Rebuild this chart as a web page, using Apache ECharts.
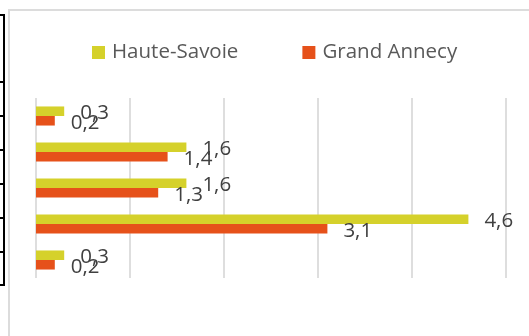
<!DOCTYPE html>
<html>
<head>
<meta charset="utf-8">
<script src="https://cdn.jsdelivr.net/npm/echarts@6/dist/echarts.min.js"></script>
<style>
  html, body { margin: 0; padding: 0; background: #ffffff; }
  #chart { width: 529px; height: 336px; }
</style>
</head>
<body>
<div id="chart"></div>
<script>
// Categories, top to bottom
const categories = ['Catégorie 1', 'Catégorie 2', 'Catégorie 3', 'Catégorie 4', 'Catégorie 5'];
const seriesNames = ['Haute-Savoie', 'Grand Annecy'];
const hauteSavoie = [0.3, 1.6, 1.6, 4.6, 0.3];
const grandAnnecy = [0.2, 1.4, 1.3, 3.1, 0.2];
const xTicks = [0, 1, 2, 3, 4, 5];

const YELLOW = '#d5d12b';
const ORANGE = '#e6511a';
const FONT = '"Open Sans", "Noto Sans", sans-serif';

// Decimal comma labels
const fmt = p => String(p.value).replace('.', ',');

const chart = echarts.init(document.getElementById('chart'), null, { renderer: 'canvas' });

const labelStyle = {
  show: true,
  position: 'right',
  distance: 16,
  offset: [0, 2],
  formatter: fmt,
  fontFamily: FONT,
  fontSize: 20.5,
  color: '#404040'
};

chart.setOption({
  animation: false,
  backgroundColor: '#ffffff',
  legend: {
    data: seriesNames,
    left: 92,
    top: 42,
    padding: 0,
    itemWidth: 13,
    itemHeight: 13,
    itemGap: 64,
    icon: 'rect',
    textStyle: { fontFamily: FONT, fontSize: 20.5, color: '#595959', padding: [0, 0, 0, 2] }
  },
  grid: { left: 36, right: 23, top: 98, bottom: 58 },
  xAxis: {
    type: 'value',
    min: xTicks[0],
    max: xTicks[xTicks.length - 1],
    interval: 1,
    axisLabel: { show: false },
    axisLine: { show: false },
    axisTick: { show: false },
    splitLine: { show: true, lineStyle: { color: '#dedede', width: 2 } }
  },
  yAxis: {
    type: 'category',
    data: categories,
    inverse: true,
    axisLabel: { show: false },
    axisLine: { show: false },
    axisTick: { show: false }
  },
  series: [
    {
      name: seriesNames[0],
      type: 'bar',
      data: hauteSavoie,
      itemStyle: { color: YELLOW },
      barGap: '0%',
      barCategoryGap: '47%',
      label: Object.assign({}, labelStyle)
    },
    {
      name: seriesNames[1],
      type: 'bar',
      data: grandAnnecy,
      itemStyle: { color: ORANGE },
      label: Object.assign({}, labelStyle)
    }
  ],
  graphic: [
    // chart frame
    { type: 'rect', shape: { x: 9, y: 10, width: 540, height: 340 },
      style: { fill: null, stroke: '#dcdcdc', lineWidth: 2 }, silent: true },
    // table edge on the left
    { type: 'line', shape: { x1: 4, y1: 14, x2: 4, y2: 286 }, style: { stroke: '#000', lineWidth: 2 } },
    ...[15, 82, 116, 150, 184, 218, 252, 285].map(y => ({
      type: 'line', shape: { x1: 0, y1: y, x2: 5, y2: y }, style: { stroke: '#000', lineWidth: 2 }
    }))
  ]
});
</script>
</body>
</html>
